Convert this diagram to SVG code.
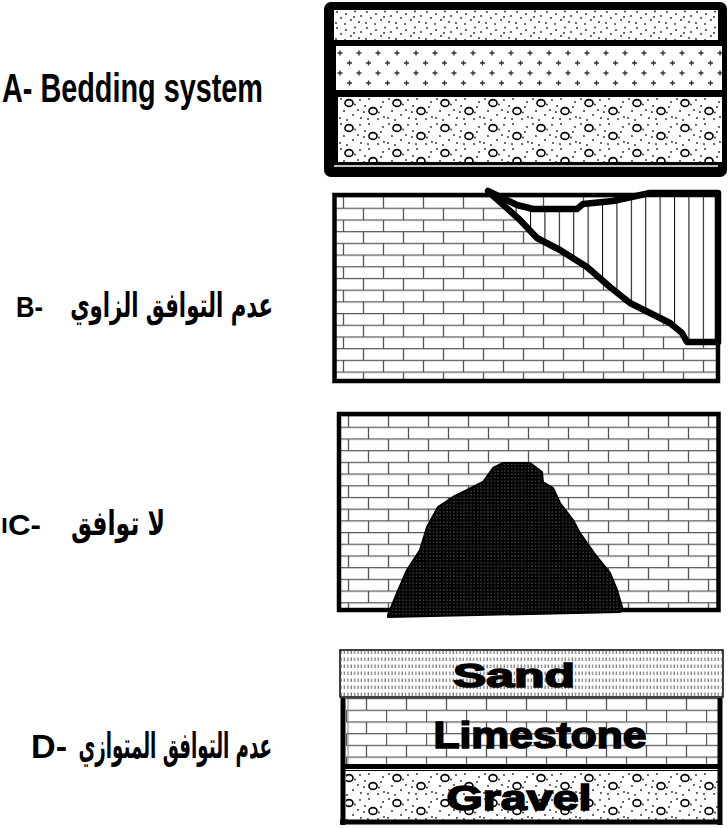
<svg xmlns="http://www.w3.org/2000/svg" width="728" height="828" viewBox="0 0 728 828">
<style>
.lab{font-family:"Liberation Sans",Arial,sans-serif;font-weight:bold;fill:#000}
.ar{font-family:"DejaVu Sans","Noto Sans",sans-serif;font-weight:bold;fill:#000}
.big{font-family:"Liberation Sans",Arial,sans-serif;font-weight:bold;fill:#000;stroke:#000;stroke-width:1.6;text-anchor:middle}
.frame{fill:none;stroke:#000;stroke-width:4.5;stroke-linejoin:miter}
</style>
<defs>
<pattern id="dots" width="30" height="16" patternUnits="userSpaceOnUse" x="334" y="10">
<g fill="#222">
<circle cx="3" cy="2" r="0.9"/><circle cx="12" cy="4" r="0.9"/><circle cx="21" cy="1.5" r="0.9"/><circle cx="27" cy="6" r="0.9"/>
<circle cx="7" cy="8" r="0.9"/><circle cx="17" cy="10" r="0.9"/><circle cx="25" cy="12" r="0.9"/><circle cx="2" cy="13" r="0.9"/>
<circle cx="11" cy="14" r="0.9"/><circle cx="20" cy="7" r="0.9"/>
</g>
</pattern>
<pattern id="plus" width="19" height="20" patternUnits="userSpaceOnUse" x="336" y="50">
<path d="M4 0.5V5.5M1.5 3H6.5M13.5 10.5V15.5M11 13H16" stroke="#333" stroke-width="1.4"/>
</pattern>
<pattern id="gravel" width="48" height="25" patternUnits="userSpaceOnUse" x="338" y="97">
<g fill="none" stroke="#000" stroke-width="1.6">
<ellipse cx="11" cy="6" rx="4" ry="3.4"/><ellipse cx="35" cy="14" rx="4" ry="3.4"/>
</g>
<g fill="#222">
<circle cx="17" cy="7.5" r="0.9"/><circle cx="41" cy="15.5" r="0.9"/><circle cx="3" cy="2" r="0.9"/><circle cx="22" cy="3" r="0.9"/>
<circle cx="27" cy="9" r="0.9"/><circle cx="45" cy="5" r="0.9"/><circle cx="6" cy="14" r="0.9"/><circle cx="15" cy="18" r="0.9"/>
<circle cx="23" cy="21" r="0.9"/><circle cx="40" cy="22" r="0.9"/><circle cx="46" cy="20" r="0.9"/><circle cx="30" cy="22" r="0.9"/>
<circle cx="2" cy="21" r="0.9"/><circle cx="20" cy="13" r="0.9"/><circle cx="43" cy="10" r="0.9"/><circle cx="31" cy="2" r="0.9"/>
<circle cx="9" cy="23" r="0.9"/><circle cx="26" cy="15" r="0.9"/>
</g>
</pattern>
<pattern id="brick" width="40" height="23.4" patternUnits="userSpaceOnUse" x="335" y="196">
<path d="M0 0.6H40M0 12.3H40M8.5 0V11.7M28.5 11.7V23.4" stroke="#555" stroke-width="1.3" fill="none"/>
</pattern>
<pattern id="brickC" width="40" height="23.4" patternUnits="userSpaceOnUse" x="340" y="415">
<path d="M0 0.6H40M0 12.3H40M8.5 0V11.7M28.5 11.7V23.4" stroke="#555" stroke-width="1.3" fill="none"/>
</pattern>
<pattern id="brickD" width="40" height="23.4" patternUnits="userSpaceOnUse" x="346" y="698">
<path d="M0 0.6H40M0 12.3H40M20.5 0V11.7M0.5 11.7V23.4" stroke="#555" stroke-width="1.3" fill="none"/>
</pattern>
<pattern id="vlines" width="14.4" height="10" patternUnits="userSpaceOnUse" x="530" y="0">
<path d="M0.5 0V10" stroke="#111" stroke-width="1.1"/>
</pattern>
<pattern id="wdots" width="3.4" height="3.4" patternUnits="userSpaceOnUse">
<rect width="3.4" height="3.4" fill="#000"/><circle cx="1.7" cy="1.7" r="0.45" fill="#fff"/>
</pattern>
<pattern id="sand" width="3.4" height="7" patternUnits="userSpaceOnUse" x="340" y="650">
<path d="M1 0.5V4" stroke="#444" stroke-width="0.9"/>
</pattern>
</defs>

<rect width="728" height="828" fill="#fff"/>

<g id="labels">
<text class="lab" x="2" y="102" font-size="40" textLength="261" lengthAdjust="spacingAndGlyphs">A- Bedding system</text>
<text class="lab" x="16" y="317" font-size="29" textLength="27" lengthAdjust="spacingAndGlyphs">B-</text>
<text class="ar" transform="translate(273,317) scale(0.624,1)" font-size="34" text-anchor="end">عدم التوافق الزاوي</text>
<text class="ar" x="1" y="533" font-size="20">ا</text>
<text class="lab" x="8" y="535" font-size="30" textLength="33" lengthAdjust="spacingAndGlyphs">C-</text>
<text class="ar" transform="translate(165,535) scale(0.693,1)" font-size="34" text-anchor="end">لا توافق</text>
<text class="lab" x="31" y="758" font-size="33" textLength="36" lengthAdjust="spacingAndGlyphs">D-</text>
<text class="ar" transform="translate(272,758) scale(0.507,1)" font-size="36" text-anchor="end">عدم التوافق المتوازي</text>
</g>

<g id="panel-a">
<rect x="324" y="2" width="403" height="175" rx="7" fill="#000"/>
<rect x="334" y="10" width="384" height="30" fill="#fff"/>
<rect x="334" y="10" width="384" height="30" fill="url(#dots)"/>
<rect x="336" y="46" width="386" height="44" fill="#fff"/>
<rect x="336" y="46" width="386" height="44" fill="url(#plus)"/>
<rect x="338" y="97" width="384" height="65" fill="#fff"/>
<rect x="338" y="97" width="384" height="65" fill="url(#gravel)"/>
<path d="M334 166H718" stroke="#fff" stroke-width="1.5"/>
</g>

<g id="panel-b">
<rect x="334.5" y="195" width="383.5" height="186" fill="#fff"/>
<rect x="334.5" y="195" width="383.5" height="186" fill="url(#brick)"/>
<polygon points="488,191 517,205 533,209 577,209 583,204 613,201 650,193 718,193 718,342 687,342 682,333 670,323 630,303 610,287 587,267 560,250 537,238 520,220 490,193" fill="#fff"/>
<polygon points="488,191 517,205 533,209 577,209 583,204 613,201 650,193 718,193 718,342 687,342 682,333 670,323 630,303 610,287 587,267 560,250 537,238 520,220 490,193" fill="url(#vlines)"/>
<rect class="frame" x="334.5" y="195" width="383.5" height="186"/>
<polyline points="488,191 517,205 533,209 577,209 583,204 613,201 650,193 718,193 718,342 687,342 682,333 670,323 630,303 610,287 587,267 560,250 537,238 520,220 490,193" fill="none" stroke="#000" stroke-width="6.5" stroke-linejoin="round" stroke-linecap="round"/>
</g>

<g id="panel-c">
<rect x="339" y="414" width="379.5" height="196" fill="#fff"/>
<rect x="339" y="414" width="379.5" height="196" fill="url(#brickC)"/>
<rect class="frame" x="339" y="414" width="379.5" height="196"/>
<polygon points="388,615 397,593 407,570 420,550 427,527 438,507 453,497 467,490 483,482 493,468 503,463 530,463 542,472 543,482 553,488 560,503 573,520 580,533 587,543 597,557 610,573 617,590 623,610 620,612 388,617" fill="url(#wdots)" stroke="#000" stroke-width="2" stroke-linejoin="round"/>
</g>

<g id="panel-d">
<rect x="340" y="650" width="383" height="47" fill="#fff" stroke="#000" stroke-width="1.5"/>
<rect x="340.75" y="650.75" width="381.5" height="45.5" fill="url(#sand)"/>
<rect x="346" y="698" width="373" height="68" fill="#fff"/>
<rect x="346" y="698" width="373" height="68" fill="url(#brickD)"/>
<rect x="346" y="772" width="373" height="48" fill="#fff"/>
<rect x="346" y="772" width="373" height="48" fill="url(#gravel)"/>
<path d="M348 699V765H718" fill="none" stroke="#888" stroke-width="1"/>
<path d="M343 698V825M340 822H722M720 698V825M345 766.5H719" fill="none" stroke="#000" stroke-width="5"/>
<path d="M345 770.5H719" stroke="#000" stroke-width="1"/>
<text class="big" x="514" y="687" font-size="33" textLength="122" lengthAdjust="spacingAndGlyphs">Sand</text>
<text class="big" x="540" y="748" font-size="36" textLength="213" lengthAdjust="spacingAndGlyphs">Limestone</text>
<text class="big" x="519" y="810" font-size="35" textLength="145" lengthAdjust="spacingAndGlyphs">Gravel</text>
</g>
</svg>
